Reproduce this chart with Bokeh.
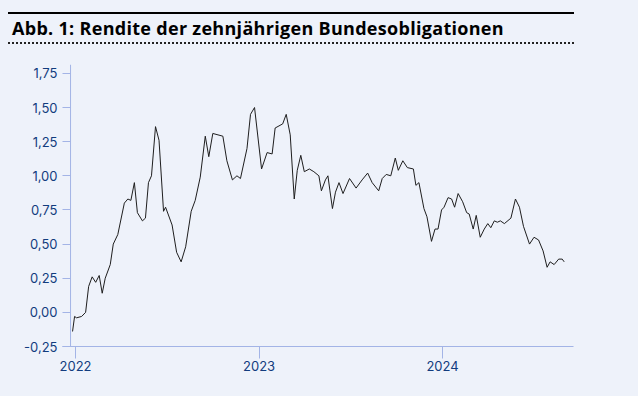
from datetime import datetime
import pandas as pd
from bokeh.plotting import figure
from bokeh.layouts import column
from bokeh.models import (Div, FixedTicker, Range1d, ColumnDataSource,
                          GlobalInlineStyleSheet, Span)
from bokeh.embed import file_html
from bokeh.resources import INLINE

TITLE = "Abb. 1: Rendite der zehnjährigen Bundesobligationen"

dates = [
    "2021-12-26", "2021-12-30", "2022-01-03", "2022-01-13", "2022-01-21", "2022-01-27",
    "2022-02-03", "2022-02-10", "2022-02-17", "2022-02-23", "2022-03-01", "2022-03-11",
    "2022-03-17", "2022-03-26", "2022-04-08", "2022-04-15", "2022-04-21", "2022-04-28",
    "2022-05-04", "2022-05-14", "2022-05-20", "2022-05-26", "2022-06-01", "2022-06-09",
    "2022-06-16", "2022-06-25", "2022-06-29", "2022-07-12", "2022-07-21", "2022-07-30",
    "2022-08-08", "2022-08-19", "2022-08-27", "2022-09-06", "2022-09-16", "2022-09-23",
    "2022-10-01", "2022-10-21", "2022-10-29", "2022-11-09", "2022-11-18", "2022-11-25",
    "2022-12-08", "2022-12-15", "2022-12-23", "2023-01-06", "2023-01-17", "2023-01-27",
    "2023-02-02", "2023-02-17", "2023-02-24", "2023-03-04", "2023-03-12", "2023-03-18",
    "2023-03-25", "2023-04-01", "2023-04-11", "2023-04-20", "2023-04-30", "2023-05-05",
    "2023-05-13", "2023-05-18", "2023-05-22", "2023-05-27", "2023-06-02", "2023-06-09",
    "2023-06-17", "2023-06-30", "2023-07-13", "2023-07-25", "2023-08-05", "2023-08-14",
    "2023-08-27", "2023-09-03", "2023-09-11", "2023-09-20", "2023-09-29", "2023-10-05",
    "2023-10-14", "2023-10-23", "2023-11-04", "2023-11-09", "2023-11-15", "2023-11-25",
    "2023-12-01", "2023-12-10", "2023-12-17", "2023-12-23", "2023-12-30", "2024-01-04",
    "2024-01-12", "2024-01-19", "2024-01-25", "2024-02-01", "2024-02-10", "2024-02-18",
    "2024-02-23", "2024-03-02", "2024-03-08", "2024-03-16", "2024-03-24", "2024-03-31",
    "2024-04-06", "2024-04-13", "2024-04-19", "2024-04-25", "2024-05-03", "2024-05-16",
    "2024-05-25", "2024-06-02", "2024-06-10", "2024-06-22", "2024-07-01", "2024-07-10",
    "2024-07-19", "2024-07-27", "2024-08-02", "2024-08-10", "2024-08-19", "2024-08-26",
    "2024-08-30",
]
yields = [
    -0.14, -0.03, -0.04, -0.03, 0.00, 0.19,
    0.26, 0.22, 0.27, 0.14, 0.25, 0.35,
    0.50, 0.57, 0.80, 0.83, 0.82, 0.95,
    0.73, 0.67, 0.69, 0.95, 1.00, 1.36,
    1.26, 0.74, 0.77, 0.64, 0.44, 0.37,
    0.48, 0.74, 0.82, 0.99, 1.29, 1.14,
    1.31, 1.29, 1.11, 0.97, 1.00, 0.98,
    1.20, 1.45, 1.50, 1.05, 1.17, 1.16,
    1.35, 1.38, 1.45, 1.30, 0.83, 1.04,
    1.15, 1.03, 1.05, 1.03, 1.00, 0.89,
    0.97, 1.00, 0.89, 0.76, 0.88, 0.95,
    0.87, 0.98, 0.91, 0.97, 1.02, 0.95,
    0.89, 0.98, 1.01, 1.00, 1.13, 1.04,
    1.11, 1.06, 1.05, 0.93, 0.95, 0.76,
    0.70, 0.52, 0.61, 0.61, 0.75, 0.77,
    0.84, 0.83, 0.77, 0.87, 0.81, 0.73,
    0.72, 0.61, 0.71, 0.55, 0.61, 0.65,
    0.62, 0.67, 0.66, 0.67, 0.65, 0.69,
    0.83, 0.77, 0.63, 0.50, 0.55, 0.53,
    0.45, 0.33, 0.37, 0.35, 0.39, 0.39,
    0.37,
]

x_tick_dates = ["2022-01-01", "2023-01-01", "2024-01-01"]
x_tick_labels = ["2022", "2023", "2024"]
y_ticks = [-0.25, 0.0, 0.25, 0.5, 0.75, 1.0, 1.25, 1.5, 1.75]
y_tick_labels = ["-0,25", "0,00", "0,25", "0,50", "0,75", "1,00", "1,25", "1,50", "1,75"]

BG = "#EEF2FA"
AXIS = "#A3B4E6"
LABEL = "#123C7E"
FONT = "Inter"


def to_ms(s):
    return (pd.Timestamp(s) - pd.Timestamp("1970-01-01")).total_seconds() * 1000.0


src = ColumnDataSource(dict(d=pd.to_datetime(dates), v=yields))

p = figure(width=622, height=344, x_axis_type="datetime", output_backend="svg",
           toolbar_location=None, title=None,
           x_range=Range1d(datetime(2021, 12, 6), datetime(2024, 9, 17, 12)),
           y_range=Range1d(-0.25, 1.815),
           min_border_left=54, min_border_right=57, min_border_top=20, min_border_bottom=42)
p.background_fill_color = BG
p.border_fill_color = BG
p.outline_line_color = None
p.grid.visible = False

# vertical axis line (y axis sits slightly right of the frame's left edge)
p.add_layout(Span(location=datetime(2021, 12, 22), dimension="height",
                  line_color=AXIS, line_width=1))

p.line("d", "v", source=src, line_color="#1E1E1E", line_width=1)

x_ms = [to_ms(d) for d in x_tick_dates]
xa = p.xaxis[0]
xa.ticker = FixedTicker(ticks=x_ms)
xa.major_label_overrides = {t: l for t, l in zip(x_ms, x_tick_labels)}
xa.axis_line_color = AXIS
xa.major_tick_line_color = AXIS
xa.major_tick_in = 0
xa.major_tick_out = 12
xa.minor_tick_line_color = None
xa.major_label_standoff = 2
xa.major_label_text_font = FONT
xa.major_label_text_font_size = "13px"
xa.major_label_text_font_style = "normal"
xa.major_label_text_color = LABEL

ya = p.yaxis[0]
ya.ticker = FixedTicker(ticks=y_ticks)
ya.major_label_overrides = {t: l for t, l in zip(y_ticks, y_tick_labels)}
ya.axis_line_color = None
ya.major_tick_line_color = AXIS
ya.major_tick_in = 8
ya.major_tick_out = 0
ya.minor_tick_line_color = None
ya.major_label_standoff = 5
ya.major_label_text_font = FONT
ya.major_label_text_font_size = "13px"
ya.major_label_text_color = LABEL

title_html = (
    '<div style="box-sizing:border-box;width:566px;margin-top:4px;border-top:2px solid #000;'
    'border-bottom:2px dotted #222;height:32px;line-height:28px;padding-left:4px;'
    'font-family:\'Open Sans\';font-weight:700;letter-spacing:0.3px;'
    'font-size:18px;color:#000;white-space:nowrap;">' + TITLE + '</div>'
)
div = Div(text=title_html, width=566, height=36, margin=0)

layout = column(div, p, spacing=0)
layout.stylesheets = [GlobalInlineStyleSheet(
    css="html, body {background:%s !important;} body {padding:8px !important;}" % BG)]

open("out.html", "w").write(file_html(layout, INLINE))
